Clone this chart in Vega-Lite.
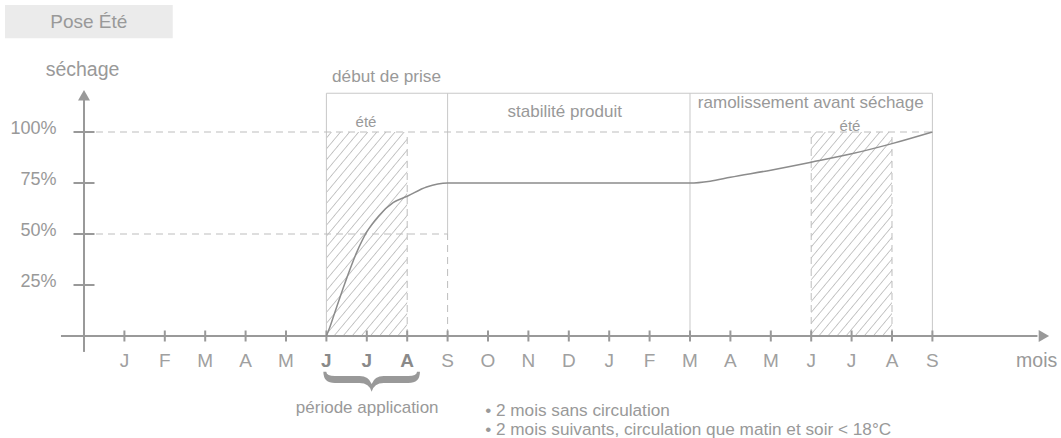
{
  "$schema": "https://vega.github.io/schema/vega-lite/v6.json",
  "width": 1061,
  "height": 438,
  "autosize": "none",
  "padding": 0,
  "background": "white",
  "config": {
    "view": {"stroke": null},
    "axis": {"disable": true},
    "text": {"font": "Liberation Sans", "color": "#999999"}
  },
  "datasets": {
    "months": [
      {"x": 1, "label": "J", "bold": false},
      {"x": 2, "label": "F", "bold": false},
      {"x": 3, "label": "M", "bold": false},
      {"x": 4, "label": "A", "bold": false},
      {"x": 5, "label": "M", "bold": false},
      {"x": 6, "label": "J", "bold": true},
      {"x": 7, "label": "J", "bold": true},
      {"x": 8, "label": "A", "bold": true},
      {"x": 9, "label": "S", "bold": false},
      {"x": 10, "label": "O", "bold": false},
      {"x": 11, "label": "N", "bold": false},
      {"x": 12, "label": "D", "bold": false},
      {"x": 13, "label": "J", "bold": false},
      {"x": 14, "label": "F", "bold": false},
      {"x": 15, "label": "M", "bold": false},
      {"x": 16, "label": "A", "bold": false},
      {"x": 17, "label": "M", "bold": false},
      {"x": 18, "label": "J", "bold": false},
      {"x": 19, "label": "J", "bold": false},
      {"x": 20, "label": "A", "bold": false},
      {"x": 21, "label": "S", "bold": false}
    ],
    "levels": [
      {"y": 25, "label": "25%"},
      {"y": 50, "label": "50%"},
      {"y": 75, "label": "75%"},
      {"y": 100, "label": "100%"}
    ],
    "curve": [
      {"x": 6, "y": 0},
      {"x": 6.08, "y": 4},
      {"x": 6.2, "y": 11},
      {"x": 6.46, "y": 26},
      {"x": 6.75, "y": 41},
      {"x": 7.0, "y": 51},
      {"x": 7.3, "y": 59},
      {"x": 7.66, "y": 65.5},
      {"x": 8, "y": 68.5},
      {"x": 8.48, "y": 73},
      {"x": 9, "y": 75},
      {"x": 15, "y": 75},
      {"x": 15.5, "y": 75.9},
      {"x": 16, "y": 77.8},
      {"x": 17, "y": 81.3},
      {"x": 18, "y": 85.2},
      {"x": 19, "y": 89.3},
      {"x": 20, "y": 94.3},
      {"x": 21, "y": 100}
    ]
  },
  "layer": [
    {
      "data": {"values": [{}]},
      "mark": {"type": "rect", "fill": "#ebebeb"},
      "encoding": {
        "x": {"datum": -1.955, "type": "quantitative", "scale": {"domain": [-2.0792, 24.1832], "nice": false, "zero": false}},
        "x2": {"datum": 2.196},
        "y": {"datum": 162.25, "type": "quantitative", "scale": {"domain": [-50, 164.706], "nice": false, "zero": false}},
        "y2": {"datum": 145.9}
      }
    },
    {
      "data": {"values": [{}]},
      "mark": {"type": "text", "text": "Pose Été", "fontSize": 19, "align": "center", "baseline": "alphabetic"},
      "encoding": {
        "x": {"datum": 0.119, "type": "quantitative", "scale": {"domain": [-2.0792, 24.1832], "nice": false, "zero": false}},
        "y": {"datum": 150.8, "type": "quantitative", "scale": {"domain": [-50, 164.706], "nice": false, "zero": false}}
      }
    },
    {
      "data": {"values": [{"x": 6, "x2": 8}, {"x": 18, "x2": 20}]},
      "mark": {
        "type": "rect",
        "fill": {
          "gradient": "linear",
          "x1": 0, "y1": 0, "x2": 0.572, "y2": 1.204,
          "stops": [
            {"offset": 0, "color": "#ffffff"},
            {"offset": 0.0155, "color": "#ffffff"}, {"offset": 0.0200, "color": "#c0c0c0"}, {"offset": 0.0245, "color": "#ffffff"},
            {"offset": 0.0517, "color": "#ffffff"}, {"offset": 0.0562, "color": "#c0c0c0"}, {"offset": 0.0607, "color": "#ffffff"},
            {"offset": 0.0879, "color": "#ffffff"}, {"offset": 0.0924, "color": "#c0c0c0"}, {"offset": 0.0969, "color": "#ffffff"},
            {"offset": 0.1241, "color": "#ffffff"}, {"offset": 0.1286, "color": "#c0c0c0"}, {"offset": 0.1331, "color": "#ffffff"},
            {"offset": 0.1603, "color": "#ffffff"}, {"offset": 0.1648, "color": "#c0c0c0"}, {"offset": 0.1693, "color": "#ffffff"},
            {"offset": 0.1965, "color": "#ffffff"}, {"offset": 0.2010, "color": "#c0c0c0"}, {"offset": 0.2055, "color": "#ffffff"},
            {"offset": 0.2327, "color": "#ffffff"}, {"offset": 0.2372, "color": "#c0c0c0"}, {"offset": 0.2417, "color": "#ffffff"},
            {"offset": 0.2689, "color": "#ffffff"}, {"offset": 0.2734, "color": "#c0c0c0"}, {"offset": 0.2779, "color": "#ffffff"},
            {"offset": 0.3051, "color": "#ffffff"}, {"offset": 0.3096, "color": "#c0c0c0"}, {"offset": 0.3141, "color": "#ffffff"},
            {"offset": 0.3413, "color": "#ffffff"}, {"offset": 0.3458, "color": "#c0c0c0"}, {"offset": 0.3503, "color": "#ffffff"},
            {"offset": 0.3775, "color": "#ffffff"}, {"offset": 0.3820, "color": "#c0c0c0"}, {"offset": 0.3865, "color": "#ffffff"},
            {"offset": 0.4137, "color": "#ffffff"}, {"offset": 0.4182, "color": "#c0c0c0"}, {"offset": 0.4227, "color": "#ffffff"},
            {"offset": 0.4499, "color": "#ffffff"}, {"offset": 0.4544, "color": "#c0c0c0"}, {"offset": 0.4589, "color": "#ffffff"},
            {"offset": 0.4861, "color": "#ffffff"}, {"offset": 0.4906, "color": "#c0c0c0"}, {"offset": 0.4951, "color": "#ffffff"},
            {"offset": 0.5223, "color": "#ffffff"}, {"offset": 0.5268, "color": "#c0c0c0"}, {"offset": 0.5313, "color": "#ffffff"},
            {"offset": 0.5585, "color": "#ffffff"}, {"offset": 0.5630, "color": "#c0c0c0"}, {"offset": 0.5675, "color": "#ffffff"},
            {"offset": 0.5947, "color": "#ffffff"}, {"offset": 0.5992, "color": "#c0c0c0"}, {"offset": 0.6037, "color": "#ffffff"},
            {"offset": 0.6309, "color": "#ffffff"}, {"offset": 0.6354, "color": "#c0c0c0"}, {"offset": 0.6399, "color": "#ffffff"},
            {"offset": 0.6671, "color": "#ffffff"}, {"offset": 0.6716, "color": "#c0c0c0"}, {"offset": 0.6761, "color": "#ffffff"},
            {"offset": 0.7033, "color": "#ffffff"}, {"offset": 0.7078, "color": "#c0c0c0"}, {"offset": 0.7123, "color": "#ffffff"},
            {"offset": 0.7395, "color": "#ffffff"}, {"offset": 0.7440, "color": "#c0c0c0"}, {"offset": 0.7485, "color": "#ffffff"},
            {"offset": 0.7757, "color": "#ffffff"}, {"offset": 0.7802, "color": "#c0c0c0"}, {"offset": 0.7847, "color": "#ffffff"},
            {"offset": 0.8119, "color": "#ffffff"}, {"offset": 0.8164, "color": "#c0c0c0"}, {"offset": 0.8209, "color": "#ffffff"},
            {"offset": 0.8481, "color": "#ffffff"}, {"offset": 0.8526, "color": "#c0c0c0"}, {"offset": 0.8571, "color": "#ffffff"},
            {"offset": 0.8843, "color": "#ffffff"}, {"offset": 0.8888, "color": "#c0c0c0"}, {"offset": 0.8933, "color": "#ffffff"},
            {"offset": 0.9205, "color": "#ffffff"}, {"offset": 0.9250, "color": "#c0c0c0"}, {"offset": 0.9295, "color": "#ffffff"},
            {"offset": 0.9567, "color": "#ffffff"}, {"offset": 0.9612, "color": "#c0c0c0"}, {"offset": 0.9657, "color": "#ffffff"},
            {"offset": 1, "color": "#ffffff"}
          ]
        }
      },
      "encoding": {
        "x": {"field": "x", "type": "quantitative", "scale": {"domain": [-2.0792, 24.1832], "nice": false, "zero": false}},
        "x2": {"field": "x2"},
        "y": {"datum": 0, "type": "quantitative", "scale": {"domain": [-50, 164.706], "nice": false, "zero": false}},
        "y2": {"datum": 100}
      }
    },
    {
      "data": {"values": [
        {"x": 6, "y": 0, "x2": 6, "y2": 119},
        {"x": 9, "y": 50, "x2": 9, "y2": 119},
        {"x": 15, "y": 0, "x2": 15, "y2": 119},
        {"x": 21, "y": 0, "x2": 21, "y2": 119},
        {"x": 6, "y": 119, "x2": 21, "y2": 119}
      ]},
      "mark": {"type": "rule", "stroke": "#c8c8c8", "strokeWidth": 1},
      "encoding": {
        "x": {"field": "x", "type": "quantitative", "scale": {"domain": [-2.0792, 24.1832], "nice": false, "zero": false}},
        "y": {"field": "y", "type": "quantitative", "scale": {"domain": [-50, 164.706], "nice": false, "zero": false}},
        "x2": {"field": "x2"},
        "y2": {"field": "y2"}
      }
    },
    {
      "data": {"values": [
        {"x": 0, "y": 100, "x2": 21, "y2": 100},
        {"x": 0, "y": 50, "x2": 9, "y2": 50},
        {"x": 9, "y": 0, "x2": 9, "y2": 50},
        {"x": 8, "y": 0, "x2": 8, "y2": 100},
        {"x": 18, "y": 0, "x2": 18, "y2": 100},
        {"x": 20, "y": 0, "x2": 20, "y2": 100}
      ]},
      "mark": {"type": "rule", "stroke": "#bdbdbd", "strokeWidth": 1, "strokeDash": [7, 5]},
      "encoding": {
        "x": {"field": "x", "type": "quantitative", "scale": {"domain": [-2.0792, 24.1832], "nice": false, "zero": false}},
        "y": {"field": "y", "type": "quantitative", "scale": {"domain": [-50, 164.706], "nice": false, "zero": false}},
        "x2": {"field": "x2"},
        "y2": {"field": "y2"}
      }
    },
    {
      "data": {"values": [{}]},
      "mark": {"type": "rule", "stroke": "#999999", "strokeWidth": 2},
      "encoding": {
        "x": {"datum": -0.57, "type": "quantitative", "scale": {"domain": [-2.0792, 24.1832], "nice": false, "zero": false}},
        "x2": {"datum": 23.6},
        "y": {"datum": 0, "type": "quantitative", "scale": {"domain": [-50, 164.706], "nice": false, "zero": false}}
      }
    },
    {
      "data": {"values": [{}]},
      "mark": {"type": "rule", "stroke": "#999999", "strokeWidth": 2},
      "encoding": {
        "x": {"datum": 0, "type": "quantitative", "scale": {"domain": [-2.0792, 24.1832], "nice": false, "zero": false}},
        "y": {"datum": -7.8, "type": "quantitative", "scale": {"domain": [-50, 164.706], "nice": false, "zero": false}},
        "y2": {"datum": 117}
      }
    },
    {
      "data": {"values": [{}]},
      "mark": {"type": "point", "shape": "triangle-up", "size": 144, "filled": true, "color": "#999999", "opacity": 1},
      "encoding": {
        "x": {"datum": 0, "type": "quantitative", "scale": {"domain": [-2.0792, 24.1832], "nice": false, "zero": false}},
        "y": {"datum": 118, "type": "quantitative", "scale": {"domain": [-50, 164.706], "nice": false, "zero": false}}
      }
    },
    {
      "data": {"values": [{}]},
      "mark": {"type": "point", "shape": "triangle-right", "size": 144, "filled": true, "color": "#999999", "opacity": 1},
      "encoding": {
        "x": {"datum": 23.76, "type": "quantitative", "scale": {"domain": [-2.0792, 24.1832], "nice": false, "zero": false}},
        "y": {"datum": 0, "type": "quantitative", "scale": {"domain": [-50, 164.706], "nice": false, "zero": false}}
      }
    },
    {
      "data": {"name": "months"},
      "mark": {"type": "tick", "orient": "vertical", "size": 11, "thickness": 2, "color": "#999999", "opacity": 1},
      "encoding": {
        "x": {"field": "x", "type": "quantitative", "scale": {"domain": [-2.0792, 24.1832], "nice": false, "zero": false}},
        "y": {"datum": 0, "type": "quantitative", "scale": {"domain": [-50, 164.706], "nice": false, "zero": false}}
      }
    },
    {
      "data": {"name": "levels"},
      "mark": {"type": "tick", "orient": "horizontal", "size": 21, "thickness": 2, "color": "#999999", "opacity": 1},
      "encoding": {
        "x": {"datum": 0, "type": "quantitative", "scale": {"domain": [-2.0792, 24.1832], "nice": false, "zero": false}},
        "y": {"field": "y", "type": "quantitative", "scale": {"domain": [-50, 164.706], "nice": false, "zero": false}}
      }
    },
    {
      "data": {"name": "curve"},
      "mark": {"type": "line", "interpolate": "monotone", "stroke": "#8c8c8c", "strokeWidth": 1.5},
      "encoding": {
        "x": {"field": "x", "type": "quantitative", "scale": {"domain": [-2.0792, 24.1832], "nice": false, "zero": false}},
        "y": {"field": "y", "type": "quantitative", "scale": {"domain": [-50, 164.706], "nice": false, "zero": false}}
      }
    },
    {
      "data": {"name": "months"},
      "transform": [{"filter": "!datum.bold"}],
      "mark": {"type": "text", "fontSize": 19, "align": "center", "baseline": "alphabetic", "color": "#a0a0a0"},
      "encoding": {
        "x": {"field": "x", "type": "quantitative", "scale": {"domain": [-2.0792, 24.1832], "nice": false, "zero": false}},
        "y": {"datum": -15.3, "type": "quantitative", "scale": {"domain": [-50, 164.706], "nice": false, "zero": false}},
        "text": {"field": "label"}
      }
    },
    {
      "data": {"name": "months"},
      "transform": [{"filter": "datum.bold"}],
      "mark": {"type": "text", "fontSize": 19, "fontWeight": 900, "align": "center", "baseline": "alphabetic", "color": "#8a8a8a"},
      "encoding": {
        "x": {"field": "x", "type": "quantitative", "scale": {"domain": [-2.0792, 24.1832], "nice": false, "zero": false}},
        "y": {"datum": -15.3, "type": "quantitative", "scale": {"domain": [-50, 164.706], "nice": false, "zero": false}},
        "text": {"field": "label"}
      }
    },
    {
      "data": {"name": "levels"},
      "mark": {"type": "text", "fontSize": 18, "align": "right", "baseline": "alphabetic", "dy": 2},
      "encoding": {
        "x": {"datum": -0.681, "type": "quantitative", "scale": {"domain": [-2.0792, 24.1832], "nice": false, "zero": false}},
        "y": {"field": "y", "type": "quantitative", "scale": {"domain": [-50, 164.706], "nice": false, "zero": false}},
        "text": {"field": "label"}
      }
    },
    {
      "data": {"values": [
        {"x": 11.9, "y": 107.5, "label": "stabilité produit"},
        {"x": 17.99, "y": 111.6, "label": "ramolissement avant séchage"},
        {"x": 7.01, "y": -37.7, "label": "période application"}
      ]},
      "mark": {"type": "text", "fontSize": 17, "align": "center", "baseline": "alphabetic"},
      "encoding": {
        "x": {"field": "x", "type": "quantitative", "scale": {"domain": [-2.0792, 24.1832], "nice": false, "zero": false}},
        "y": {"field": "y", "type": "quantitative", "scale": {"domain": [-50, 164.706], "nice": false, "zero": false}},
        "text": {"field": "label"}
      }
    },
    {
      "data": {"values": [
        {"x": -0.037, "y": 127.5, "label": "séchage"},
        {"x": 23.58, "y": -15.0, "label": "mois"}
      ]},
      "mark": {"type": "text", "fontSize": 19.5, "align": "center", "baseline": "alphabetic"},
      "encoding": {
        "x": {"field": "x", "type": "quantitative", "scale": {"domain": [-2.0792, 24.1832], "nice": false, "zero": false}},
        "y": {"field": "y", "type": "quantitative", "scale": {"domain": [-50, 164.706], "nice": false, "zero": false}},
        "text": {"field": "label"}
      }
    },
    {
      "data": {"values": [
        {"x": 6.98, "y": 102.3, "label": "été"},
        {"x": 18.96, "y": 100.6, "label": "été"}
      ]},
      "mark": {"type": "text", "fontSize": 15, "align": "center", "baseline": "alphabetic"},
      "encoding": {
        "x": {"field": "x", "type": "quantitative", "scale": {"domain": [-2.0792, 24.1832], "nice": false, "zero": false}},
        "y": {"field": "y", "type": "quantitative", "scale": {"domain": [-50, 164.706], "nice": false, "zero": false}},
        "text": {"field": "label"}
      }
    },
    {
      "data": {"values": [
        {"x": 6.14, "y": 124.5, "label": "début de prise"},
        {"x": 9.93, "y": -39, "label": "• 2 mois sans circulation"},
        {"x": 9.93, "y": -48.5, "label": "• 2 mois suivants, circulation que matin et soir < 18°C"}
      ]},
      "mark": {"type": "text", "fontSize": 17.2, "align": "left", "baseline": "alphabetic"},
      "encoding": {
        "x": {"field": "x", "type": "quantitative", "scale": {"domain": [-2.0792, 24.1832], "nice": false, "zero": false}},
        "y": {"field": "y", "type": "quantitative", "scale": {"domain": [-50, 164.706], "nice": false, "zero": false}},
        "text": {"field": "label"}
      }
    },
    {
      "data": {"values": [{}]},
      "mark": {
        "type": "point",
        "shape": "M-1,-0.193 Q-1,0.041 -0.76,0.041 L-0.25,0.041 Q-0.05,0.041 0,0.222 Q0.05,0.041 0.25,0.041 L0.76,0.041 Q1,0.041 1,-0.193 L0.94,-0.193 Q0.93,-0.1035 0.76,-0.1035 L0.25,-0.1035 Q0.06,-0.1035 0,0.062 Q-0.06,-0.1035 -0.25,-0.1035 L-0.76,-0.1035 Q-0.93,-0.1035 -0.94,-0.193 Z",
        "size": 9332,
        "filled": true,
        "color": "#999999",
        "opacity": 1,
        "strokeWidth": 0
      },
      "encoding": {
        "x": {"datum": 7.12, "type": "quantitative", "scale": {"domain": [-2.0792, 24.1832], "nice": false, "zero": false}},
        "y": {"datum": -22.06, "type": "quantitative", "scale": {"domain": [-50, 164.706], "nice": false, "zero": false}}
      }
    }
  ]
}
